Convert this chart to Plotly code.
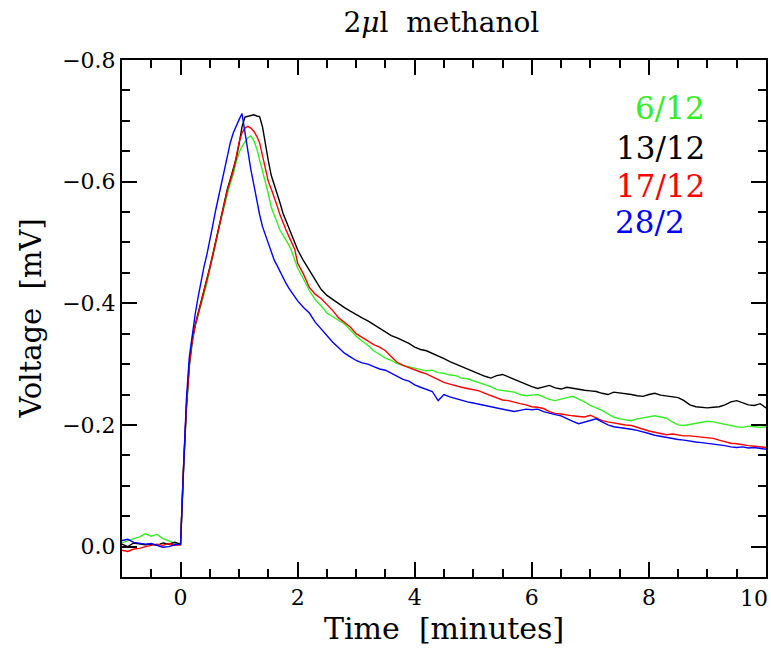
import plotly.graph_objects as go

# time [minutes]
T = [-1.0, -0.9, -0.8, -0.7, -0.6, -0.5, -0.4, -0.3, -0.2, -0.1,
     0.0, 0.05, 0.1, 0.15, 0.2, 0.25, 0.3, 0.35, 0.4, 0.45,
     0.5, 0.55, 0.6, 0.65, 0.7, 0.75, 0.8, 0.85, 0.9, 0.95,
     1.0, 1.05, 1.1, 1.15, 1.2, 1.25, 1.3, 1.35, 1.4, 1.45,
     1.5, 1.55, 1.6, 1.65, 1.7, 1.75, 1.8, 1.85, 1.9, 1.95,
     2.0, 2.1, 2.2, 2.3, 2.4, 2.5, 2.6, 2.7, 2.8, 2.9,
     3.0, 3.1, 3.2, 3.3, 3.4, 3.5, 3.6, 3.7, 3.8, 3.9,
     4.0, 4.1, 4.2, 4.3, 4.4, 4.5, 4.6, 4.7, 4.8, 4.9,
     5.0, 5.1, 5.2, 5.3, 5.4, 5.5, 5.6, 5.7, 5.8, 5.9,
     6.0, 6.1, 6.2, 6.3, 6.4, 6.5, 6.6, 6.7, 6.8, 6.9,
     7.0, 7.1, 7.2, 7.3, 7.4, 7.5, 7.6, 7.7, 7.8, 7.9,
     8.0, 8.1, 8.2, 8.3, 8.4, 8.5, 8.6, 8.7, 8.8, 8.9,
     9.0, 9.1, 9.2, 9.3, 9.4, 9.5, 9.6, 9.7, 9.8, 9.9, 10.0]

V_6_12 = [-0.006, -0.010, -0.013, -0.016, -0.021, -0.017, -0.020, -0.013, -0.009, -0.006,
          -0.002, -0.125, -0.225, -0.295, -0.335, -0.362, -0.380, -0.398, -0.415, -0.433,
          -0.456, -0.476, -0.497, -0.522, -0.543, -0.562, -0.580, -0.597, -0.612, -0.632,
          -0.648, -0.658, -0.666, -0.672, -0.675, -0.668, -0.655, -0.636, -0.620, -0.600,
          -0.580, -0.558, -0.545, -0.531, -0.520, -0.512, -0.504, -0.496, -0.485, -0.472,
          -0.458, -0.440, -0.421, -0.406, -0.396, -0.384, -0.378, -0.371, -0.366, -0.356,
          -0.346, -0.338, -0.331, -0.322, -0.316, -0.310, -0.306, -0.301, -0.298, -0.296,
          -0.293, -0.292, -0.289, -0.290, -0.286, -0.285, -0.282, -0.281, -0.277, -0.276,
          -0.273, -0.270, -0.266, -0.263, -0.258, -0.257, -0.255, -0.254, -0.250, -0.248,
          -0.249, -0.250, -0.246, -0.242, -0.240, -0.243, -0.245, -0.247, -0.243, -0.238,
          -0.232, -0.228, -0.224, -0.218, -0.213, -0.210, -0.208, -0.207, -0.210, -0.212,
          -0.214, -0.215, -0.213, -0.211, -0.205, -0.200, -0.199, -0.201, -0.203, -0.205,
          -0.206, -0.205, -0.203, -0.200, -0.198, -0.197, -0.196, -0.198, -0.197, -0.196, -0.197]

V_13_12 = [-0.004, 0.000, -0.006, -0.005, -0.003, -0.004, -0.002, -0.006, -0.004, -0.007,
           -0.004, -0.130, -0.230, -0.300, -0.340, -0.365, -0.384, -0.402, -0.418, -0.437,
           -0.459, -0.480, -0.502, -0.527, -0.548, -0.568, -0.588, -0.604, -0.620, -0.638,
           -0.662, -0.690, -0.706, -0.707, -0.708, -0.710, -0.708, -0.707, -0.690, -0.660,
           -0.634, -0.610, -0.596, -0.582, -0.565, -0.548, -0.536, -0.523, -0.512, -0.502,
           -0.488, -0.470, -0.455, -0.440, -0.423, -0.413, -0.406, -0.400, -0.393, -0.387,
           -0.381, -0.376, -0.371, -0.365, -0.358, -0.352, -0.347, -0.343, -0.339, -0.334,
           -0.328, -0.324, -0.322, -0.318, -0.313, -0.309, -0.304, -0.300, -0.296, -0.291,
           -0.287, -0.284, -0.280, -0.277, -0.281, -0.283, -0.279, -0.274, -0.270, -0.266,
           -0.263, -0.260, -0.262, -0.265, -0.261, -0.259, -0.262, -0.260, -0.258, -0.257,
           -0.256, -0.255, -0.252, -0.250, -0.254, -0.253, -0.251, -0.250, -0.248, -0.247,
           -0.250, -0.252, -0.249, -0.248, -0.247, -0.245, -0.240, -0.233, -0.230, -0.229,
           -0.228, -0.229, -0.230, -0.233, -0.238, -0.240, -0.236, -0.233, -0.232, -0.235, -0.228]

V_17_12 = [0.006, 0.008, 0.004, 0.003, 0.000, -0.002, -0.004, -0.002, -0.005, -0.002,
           -0.003, -0.128, -0.228, -0.298, -0.338, -0.363, -0.382, -0.400, -0.416, -0.436,
           -0.458, -0.479, -0.500, -0.525, -0.546, -0.566, -0.586, -0.602, -0.618, -0.640,
           -0.665, -0.680, -0.688, -0.691, -0.688, -0.683, -0.675, -0.664, -0.641, -0.620,
           -0.600, -0.588, -0.575, -0.560, -0.545, -0.532, -0.521, -0.510, -0.500, -0.489,
           -0.466, -0.448, -0.426, -0.415, -0.408, -0.398, -0.388, -0.376, -0.368, -0.361,
           -0.350, -0.344, -0.338, -0.332, -0.328, -0.322, -0.312, -0.303, -0.298, -0.294,
           -0.290, -0.287, -0.284, -0.279, -0.274, -0.270, -0.267, -0.264, -0.262, -0.260,
           -0.258, -0.256, -0.252, -0.248, -0.244, -0.241, -0.240, -0.237, -0.235, -0.233,
           -0.230, -0.229, -0.227, -0.222, -0.219, -0.218, -0.216, -0.215, -0.214, -0.213,
           -0.216, -0.212, -0.207, -0.205, -0.203, -0.201, -0.200, -0.199, -0.196, -0.192,
           -0.190, -0.188, -0.186, -0.184, -0.185, -0.183, -0.182, -0.182, -0.181, -0.180,
           -0.180, -0.178, -0.175, -0.172, -0.170, -0.169, -0.167, -0.166, -0.165, -0.164, -0.163]

V_28_2 = [-0.010, -0.012, -0.007, -0.006, -0.004, -0.005, -0.002, 0.001, 0.000, -0.003,
          -0.004, -0.140, -0.242, -0.312, -0.352, -0.382, -0.410, -0.438, -0.460, -0.480,
          -0.502, -0.528, -0.553, -0.576, -0.600, -0.624, -0.645, -0.664, -0.680, -0.692,
          -0.702, -0.712, -0.682, -0.646, -0.620, -0.596, -0.570, -0.546, -0.526, -0.512,
          -0.497, -0.483, -0.471, -0.462, -0.452, -0.443, -0.433, -0.425, -0.418, -0.411,
          -0.404, -0.393, -0.384, -0.369, -0.358, -0.346, -0.336, -0.327, -0.318, -0.312,
          -0.306, -0.302, -0.300, -0.296, -0.292, -0.290, -0.285, -0.280, -0.275, -0.272,
          -0.266, -0.262, -0.258, -0.255, -0.240, -0.250, -0.246, -0.243, -0.240, -0.238,
          -0.236, -0.234, -0.232, -0.230, -0.228, -0.225, -0.223, -0.222, -0.224, -0.226,
          -0.225, -0.226, -0.222, -0.219, -0.217, -0.215, -0.210, -0.206, -0.202, -0.205,
          -0.208, -0.210, -0.205, -0.200, -0.197, -0.196, -0.194, -0.193, -0.191, -0.189,
          -0.186, -0.183, -0.181, -0.179, -0.178, -0.176, -0.175, -0.173, -0.172, -0.171,
          -0.170, -0.169, -0.167, -0.166, -0.164, -0.163, -0.164, -0.162, -0.163, -0.161, -0.160]

SERIES_NAMES = ["6/12", "13/12", "17/12", "28/2"]
SERIES_VALUES = [V_6_12, V_13_12, V_17_12, V_28_2]
SERIES_COLORS = ["#33ee22", "#000000", "#ff0000", "#0000ff"]
LABEL_POS = [(9.0, -0.721), (9.0, -0.655), (9.0, -0.593), (8.65, -0.533)]

X_TICKS = [0, 2, 4, 6, 8, 10]
X_TICK_TEXT = ["0", "2", "4", "6", "8", "10"]
Y_TICKS = [0.0, -0.2, -0.4, -0.6, -0.8]
Y_TICK_TEXT = ["0.0", "\u22120.2", "\u22120.4", "\u22120.6", "\u22120.8"]

FONT = "DejaVu Serif"

fig = go.Figure()
for name, vals, col in zip(SERIES_NAMES, SERIES_VALUES, SERIES_COLORS):
    fig.add_trace(go.Scatter(x=T, y=vals, mode="lines", name=name,
                             line=dict(color=col, width=1.4), showlegend=False))

for name, col, (lx, ly) in zip(SERIES_NAMES, SERIES_COLORS, LABEL_POS):
    fig.add_annotation(x=lx, y=ly, xref="x", yref="y", text=name, showarrow=False,
                       xanchor="right", yanchor="middle",
                       font=dict(family=FONT, size=31, color=col))

axis_common = dict(
    showline=True, linecolor="black", linewidth=2, mirror="ticks",
    ticks="inside", ticklen=15, tickwidth=1.5, tickcolor="black",
    showgrid=False, zeroline=False, automargin=False,
    tickfont=dict(family=FONT, size=22, color="black"),
)

fig.update_layout(
    width=771, height=648,
    margin=dict(l=122, r=5, t=60, b=71, autoexpand=False),
    paper_bgcolor="white", plot_bgcolor="white",
    title=dict(text="2<i>\u03bc</i>l  methanol", x=0.5725, xanchor="center",
               y=1 - 22 / 648, yanchor="middle", yref="container",
               font=dict(family=FONT, size=28, color="black")),
    xaxis=dict(range=[-1, 10], tickvals=X_TICKS, ticktext=X_TICK_TEXT[:-1] + [""],
               minor=dict(dtick=0.5, tick0=0, ticklen=8, tickwidth=1.5,
                          ticks="inside", tickcolor="black"),
               **axis_common),
    yaxis=dict(range=[0.05, -0.8], tickvals=Y_TICKS, ticktext=Y_TICK_TEXT,
               minor=dict(dtick=0.05, tick0=0, ticklen=8, tickwidth=1.5,
                          ticks="inside", tickcolor="black"),
               **axis_common),
)

# last x tick label, nudged left so it stays inside the page (as in the reference)
fig.add_annotation(text=X_TICK_TEXT[-1], x=X_TICKS[-1], xref="x", yref="paper",
                   y=(577 - 598) / 517, xanchor="right", yanchor="middle", xshift=4,
                   showarrow=False, font=dict(family=FONT, size=22, color="black"))

fig.add_annotation(text="Time  [minutes]", xref="paper", yref="paper", x=0.5, y=(577 - 628) / 517,
                   xanchor="center", yanchor="middle", showarrow=False,
                   font=dict(family=FONT, size=30, color="black"))
fig.add_annotation(text="Voltage  [mV]", xref="paper", yref="paper", x=(30 - 122) / 644, y=0.5,
                   xanchor="center", yanchor="middle", showarrow=False, textangle=-90,
                   font=dict(family=FONT, size=29, color="black"))

fig.write_html("out.html")
